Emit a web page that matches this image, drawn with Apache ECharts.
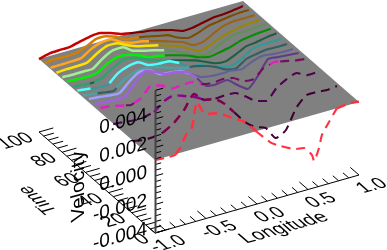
<!DOCTYPE html>
<html><head><meta charset="utf-8">
<style>html,body{margin:0;padding:0;background:#fff}#c{width:387px;height:250px}</style>
<script src="https://cdn.jsdelivr.net/npm/echarts@6/dist/echarts.min.js"></script>
</head><body><div id="c"></div>
<script>
// ---- data (velocity values in units of 1e-3) ----
const lonGrid = [-1,-0.9,-0.8,-0.7,-0.6,-0.5,-0.4,-0.3,-0.2,-0.1,0,0.1,0.2,0.3,0.4,0.5,0.6,0.7,0.8,0.9,1];
const lonRed = [-1,-0.902,-0.804,-0.755,-0.696,-0.637,-0.588,-0.529,-0.48,-0.382,-0.265,-0.118,0,0.127,0.196,0.373,0.461,0.539,0.559,0.608,0.637,0.706,0.784,0.912,1];
const times = [100,95,90,85,80,76,71,67,62,57,52,47,36,19,0];
const v100 = [1.12,1.30,1.34,1.35,1.53,1.68,1.72,1.52,1.25,1.11,0.98,0.88,0.71,0.51,0.24,0.25,0.39,0.54,0.58,0.66,0.77];
const v95 = [1.19,1.27,1.24,1.28,1.50,1.86,1.86,1.62,1.21,1.15,1.02,0.85,0.71,0.34,0.10,0.25,0.53,0.64,0.76,0.83,0.84];
const v90 = [1.22,1.23,1.24,1.28,1.74,1.99,2.00,1.59,1.35,1.25,1.05,0.85,0.61,0.37,-0.04,0.00,0.39,0.71,0.83,0.83,0.84];
const v85 = [1.22,1.27,1.27,1.32,1.78,2.10,2.07,1.73,1.46,1.29,1.12,0.88,0.64,0.27,-0.11,0.07,0.39,0.61,0.76,0.83,0.87];
const v80 = [1.26,1.23,1.24,1.25,1.78,2.14,2.14,1.69,1.49,1.32,1.12,0.85,0.50,0.16,-0.04,0.25,0.60,0.82,0.83,0.87,0.91];
const v76 = [1.26,1.20,1.17,1.25,1.71,1.96,1.90,1.66,1.32,1.22,1.05,0.85,0.61,0.30,0.13,0.25,0.39,0.64,0.76,0.83,0.87];
const v71 = [1.22,1.16,1.10,1.28,1.78,2.10,2.04,1.73,1.46,1.25,1.05,0.85,0.64,0.34,0.03,-0.04,0.25,0.61,0.69,0.83,0.91];
const v67 = [1.25,1.15,1.05,1.02,1.66,1.95,2.02,1.61,1.51,1.48,1.14,0.69,0.59,0.32,0.05,-0.08,0.13,0.63,0.78,0.78,0.79];
const v62 = [1.25,1.16,1.06,0.96,1.53,1.85,1.93,1.83,1.59,1.35,1.15,1.08,0.88,0.61,0.23,0.10,0.56,0.71,0.82,0.79,0.80];
const v57 = [1.36,1.30,1.20,1.17,1.81,2.27,2.14,1.69,1.59,1.49,1.08,0.67,0.53,0.50,0.51,0.41,0.73,0.92,0.85,0.79,0.80];
const v52 = [1.33,1.30,1.24,1.32,2.09,2.66,2.39,2.04,1.98,1.78,1.16,0.39,0.33,0.41,-0.15,-0.63,0.08,1.06,1.00,0.94,0.87];
const v47 = [1.44,1.37,1.20,1.04,1.32,2.00,1.79,1.38,1.42,1.43,1.08,0.95,1.03,0.90,0.48,0.42,0.99,1.20,1.07,0.90,0.80];
const v36 = [1.09,1.03,0.93,0.97,1.12,1.69,1.90,1.63,1.36,0.95,0.85,0.89,0.83,0.38,-0.14,-0.34,0.36,0.79,1.01,0.66,0.67];
const v19 = [1.11,0.97,0.98,1.13,1.55,2.26,3.18,2.56,2.42,1.87,1.04,0.20,-0.35,-0.62,-1.53,-1.17,0.17,0.87,0.88,0.82,0.90];
const v0 = [1.12,1.06,1.07,1.46,2.26,2.70,4.36,3.53,3.30,3.16,2.64,1.99,1.05,0.09,-0.26,-0.90,-1.01,-1.66,-2.12,-1.31,-0.45,0.32,1.14,1.23,1.14];
const velocities = [v100,v95,v90,v85,v80,v76,v71,v67,v62,v57,v52,v47,v36,v19,v0];
const brightColors = ['#c80000','#d08000','#ffa520','#ffe000','#a0f090','#00f000','#30a070','#50ffff','#50a0a0','#a0a0ff','#a060e0','#e020c0','#900090','#800050','#ff3040'];
const darkColors = ['#780000','#7c4d00','#996313','#998600','#609056','#009000','#1c6043','#309999','#306060','#606099','#603a86','#701060','#500050','#400030','#ff3040'];
const dashedFlags = [0,0,0,0,0,0,0,0,0,0,0,1,1,1,1];
const planeLevel = 1.12;
const lonTickLabels = ['-1.0','-0.5','0.0','0.5','1.0'];
const lonTicks = [-1,-0.5,0,0.5,1];
const timeTickLabels = ['0','20','40','60','80','100'];
const timeTicks = [0,20,40,60,80,100];
const velTickLabels = ['-0.004','-0.002','0.000','0.002','0.004'];
const velTicks = [-4,-2,0,2,4];
const velMax = 6, velMin = -4, timeMax = 100, lonMin = -1, lonMax = 1;

// ---- fixed 3-D view: longitude, time, velocity to screen ----
const O = [155,233], LON = [102,-29], TIME = [-1.16,-1.01], VEL = 14.25;
function proj(lon,t,v){
  return [O[0]+(lon+1)*LON[0]+t*TIME[0], O[1]+(lon+1)*LON[1]+t*TIME[1]-(v+4)*VEL];
}

// ---- split every curve where it passes through the plane ----
const series = [];
const cell = (data,z,color,dash,up)=>({type:'line',data,z,showSymbol:false,symbol:'none',smooth:0.2,clip:false,silent:true,animation:false,
  lineStyle:{color,width:up?2.5:2.1,type:dash?[9,6]:'solid',cap:'butt'}});
series.push({type:'custom',z:1,silent:true,animation:false,clip:false,
  data:[[lonMin,timeMax],[lonMax,timeMax],[lonMax,0],[lonMin,0]],
  renderItem:(p,api)=>{ if(p.dataIndex!==0) return;
    const pts=[[lonMin,timeMax],[lonMax,timeMax],[lonMax,0],[lonMin,0]].map(c=>api.coord(proj(c[0],c[1],planeLevel)));
    return {type:'polygon',shape:{points:pts},style:{fill:'#808080'}};
  }});
times.forEach((t,k)=>{
  const vs=velocities[k], ls=vs.length===lonGrid.length?lonGrid:lonRed;
  let cur=[],up=null;
  const flush=()=>{ if(cur.length>1) series.push(cell(cur,up?4:3,up?brightColors[k]:darkColors[k],dashedFlags[k],up)); };
  vs.forEach((v,i)=>{
    const u=v>=planeLevel;
    if(up===null){up=u;}
    else if(u!==up){
      const a=vs[i-1],f=(planeLevel-a)/(v-a),l=ls[i-1]+(ls[i]-ls[i-1])*f,pt=proj(l,t,planeLevel);
      cur.push(pt); flush(); cur=[pt]; up=u;
    }
    cur.push(proj(ls[i],t,v));
  });
  flush();
});

// ---- axes ----
function tickList(){
  const out=[];
  for(let i=0;i<=20;i++){const l=-1+i*0.1,mj=i%5===0,n=mj?0.075:0.05; const a=proj(l,0,-4),b=[a[0]+TIME[0]*100*n,a[1]+TIME[1]*100*n]; out.push([a[0],a[1],b[0],b[1],0]);}
  for(let i=0;i<=25;i++){const t=i*4,mj=i%5===0,n=mj?0.07:0.05; const a=proj(-1,t,-4),b=[a[0]+LON[0]*2*n,a[1]+LON[1]*2*n]; out.push([a[0],a[1],b[0],b[1],0]);}
  for(let i=0;i<=25;i++){const v=-4+i*0.4,mj=i%5===0,n=mj?0.04:0.03; const a=proj(-1,0,v),b=[a[0]+LON[0]*2*n,a[1]+LON[1]*2*n]; out.push([a[0],a[1],b[0],b[1],0]);}
  [[proj(-1,0,-4),proj(1,0,-4)],[proj(-1,0,-4),proj(-1,100,-4)]].forEach(s=>out.push([s[0][0],s[0][1],s[1][0],s[1][1],0]));
  const s=[proj(-1,0,-4),proj(-1,0,velMax)];
  out.push([s[0][0]+0.5,s[0][1],s[1][0]+0.5,s[1][1],1]);
  return out;
}
series.push({type:'custom',z:5,silent:true,animation:false,clip:false,data:tickList(),
  renderItem:(p,api)=>{
    const a=api.coord([api.value(0),api.value(1)]),b=api.coord([api.value(2),api.value(3)]),ax=api.value(4)===1;
    return {type:'line',shape:{x1:a[0],y1:a[1],x2:b[0],y2:b[1]},style:{stroke:ax?'#444':'#000',lineWidth:ax?2:1}};
  }});

// ---- skewed 3-D text ----
function placed(text,x,y,u,v,align){
  const th=Math.atan2(-u[1],u[0]),c=Math.cos(th),s=Math.sin(th);
  const sx=Math.hypot(u[0],u[1]),vx=c*v[0]-s*v[1],vy=s*v[0]+c*v[1];
  return {type:'text',x,y,rotation:th,scaleX:sx,scaleY:vy,skewX:Math.atan(vx/vy),silent:true,z:10,
    style:{text,fontFamily:'Liberation Sans',fontSize:18,fill:'#000',align,verticalAlign:'middle',textAlign:align,textVerticalAlign:'middle'}};
}
const uLon=[0.962*1.05,-0.274*1.05], vLon=[0.84,0.74], vVel=[0,1.08];
const gr=[];
lonTicks.forEach((l,i)=>{const p=proj(l,0,-4);gr.push(placed(lonTickLabels[i],p[0]+13,p[1]+11,uLon,vLon,'center'));});
timeTicks.forEach((t,i)=>{const p=proj(-1,t,-4);gr.push(placed(timeTickLabels[i],p[0]-8,p[1]+5,uLon,vLon,'right'));});
velTicks.forEach((v,i)=>{const p=proj(-1,0,v);gr.push(placed(velTickLabels[i],p[0]-8,p[1]-4,[0.962*1.1,-0.274*1.1],vVel,'right'));});
gr.push(placed('Longitude',284,228,[0.962*1.1,-0.274*1.1],vLon,'center'));
gr.push(placed('Time',38,200,[-0.748*1.02,-0.664*1.02],[0.962*1.1,-0.274*1.1],'center'));
gr.push(placed('Velocity',79,186,[0,-1.12],[0.962*1.1,-0.274*1.1],'center'));

const chart=echarts.init(document.getElementById('c'),null,{renderer:'canvas'});
chart.setOption({animation:false,backgroundColor:'#fff',
  grid:{left:0,top:0,right:0,bottom:0},
  xAxis:{type:'value',min:0,max:387,show:false},
  yAxis:{type:'value',min:0,max:250,inverse:true,show:false},
  series,graphic:gr});
</script></body></html>
